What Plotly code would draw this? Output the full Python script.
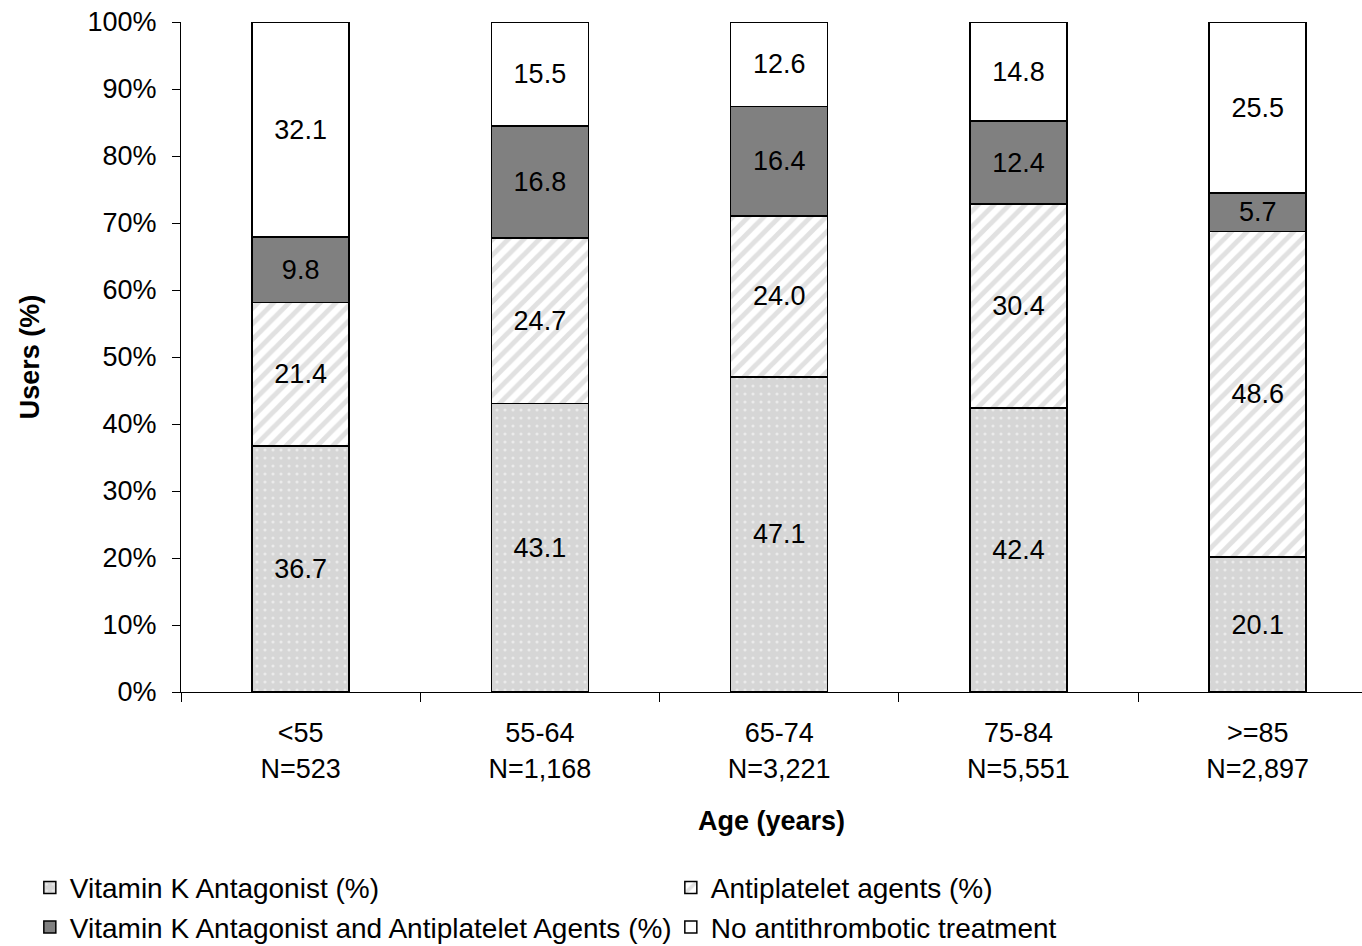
import plotly.graph_objects as go

# Age groups and patient counts
age_groups = ["<55", "55-64", "65-74", "75-84", ">=85"]
group_sizes = ["N=523", "N=1,168", "N=3,221", "N=5,551", "N=2,897"]

# Share of users (%) per treatment category, stacked bottom to top
vka_only = [36.7, 43.1, 47.1, 42.4, 20.1]
antiplatelet_only = [21.4, 24.7, 24.0, 30.4, 48.6]
vka_and_antiplatelet = [9.8, 16.8, 16.4, 12.4, 5.7]
no_treatment = [32.1, 15.5, 12.6, 14.8, 25.5]

series_names = [
    "Vitamin K Antagonist (%)",
    "Antiplatelet agents (%)",
    "Vitamin K Antagonist and Antiplatelet Agents (%)",
    "No antithrombotic treatment",
]

x_labels = [f"{a}<br>{n}" for a, n in zip(age_groups, group_sizes)]

FONT = "Liberation Sans, Arial, sans-serif"
FS = 27

fill_styles = [
    dict(color="#d6d6d6", pattern=dict(shape=".", bgcolor="#d6d6d6", fgcolor="#ffffff",
                                       size=8, solidity=0.12, fillmode="overlay")),
    dict(color="#ffffff", pattern=dict(shape="/", bgcolor="#ffffff", fgcolor="#c4c4c4",
                                       size=11, solidity=0.45, fillmode="overlay")),
    dict(color="#808080"),
    dict(color="#ffffff"),
]

fig = go.Figure()
for name, values, style in zip(series_names,
                               [vka_only, antiplatelet_only, vka_and_antiplatelet, no_treatment],
                               fill_styles):
    fig.add_trace(go.Bar(
        x=x_labels,
        y=values,
        name=name,
        text=[f"{v:.1f}" for v in values],
        textposition="inside",
        insidetextanchor="middle",
        textangle=0,
        textfont=dict(family=FONT, size=FS, color="#000000"),
        marker=dict(line=dict(color="#000000", width=1.5), **style),
        width=0.405,
        cliponaxis=False,
    ))

fig.update_layout(
    width=1362,
    height=946,
    barmode="stack",
    barnorm="percent",
    plot_bgcolor="#ffffff",
    paper_bgcolor="#ffffff",
    font=dict(family=FONT, size=FS, color="#000000"),
    margin=dict(l=181, r=0, t=22, b=254, autoexpand=False),
    uniformtext=dict(mode="show", minsize=FS),
    showlegend=True,
    legend=dict(
        orientation="h",
        x=-0.128, xanchor="left",
        y=-0.255, yanchor="top",
        entrywidth=596,
        traceorder="normal",
        bgcolor="rgba(0,0,0,0)",
        font=dict(family=FONT, size=28, color="#000000"),
    ),
    xaxis=dict(
        type="category",
        range=[-0.5, 4.436],
        automargin=False,
        showline=True, linecolor="#000000", linewidth=1,
        ticks="outside", tickson="boundaries", ticklen=9, tickcolor="#000000",
        ticklabelstandoff=17,
        showgrid=False, zeroline=False,
        title=dict(text="<b>Age (years)</b>", standoff=28,
                   font=dict(family=FONT, size=FS)),
    ),
    yaxis=dict(
        range=[0, 100],
        dtick=10,
        ticksuffix="%",
        automargin=False,
        showline=True, linecolor="#000000", linewidth=1,
        ticks="outside", ticklen=8, tickcolor="#000000",
        ticklabelstandoff=10,
        showgrid=False, zeroline=False,
        title=dict(text="<b>Users (%)</b>", standoff=40,
                   font=dict(family=FONT, size=FS)),
    ),
)

fig.write_html("out.html")
